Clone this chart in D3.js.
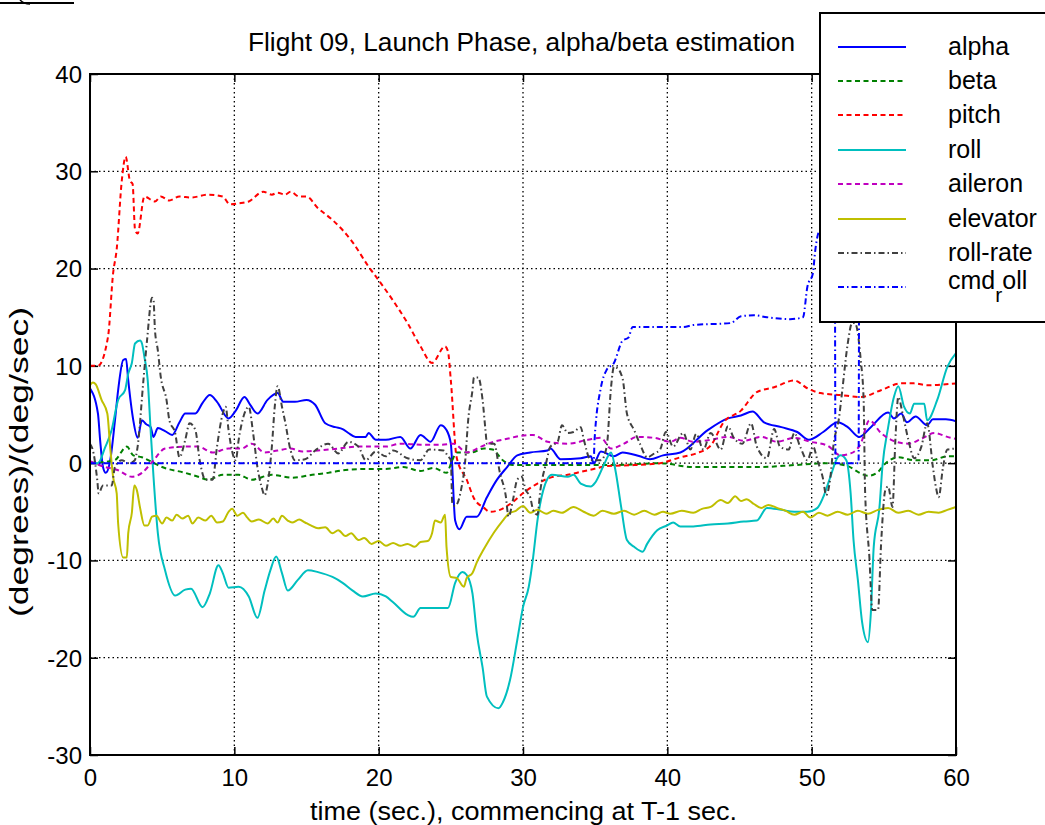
<!DOCTYPE html>
<html>
<head>
<meta charset="utf-8">
<script src="https://cdn.jsdelivr.net/npm/d3@7"></script>
<style>
  html, body { margin: 0; padding: 0; background: #fff; }
  svg { display: block; }
  text { font-family: "Liberation Sans", Arial, sans-serif; fill: #000; }
</style>
</head>
<body>
<svg id="chart" width="1045" height="825"></svg>
<script>
// ---------------- DATA ----------------
const xTicks = [0, 10, 20, 30, 40, 50, 60];
const yTicks = [-30, -20, -10, 0, 10, 20, 30, 40];
const seriesNames = ["alpha", "beta", "pitch", "roll", "aileron", "elevator", "roll-rate", "cmd_roll"];

const alpha = [[0,7.7],[0.55,5.1],[0.7,2.4],[0.9,-0.4],[1.09,-1.0],[1.4,0.3],[1.73,4.4],[1.95,7.5],[2.3,10.6],[2.5,10.7],[2.65,8.5],[3.0,4.4],[3.3,2.6],[3.6,4.4],[3.9,4.0],[4.2,3.7],[4.4,2.7],[4.7,3.6],[5.2,3.3],[5.7,2.9],[6.2,4.2],[6.6,5.1],[7.3,5.1],[7.8,6.2],[8.3,7.0],[8.8,6.3],[9.6,4.6],[10.1,5.4],[10.7,6.8],[11.1,6.0],[11.6,5.1],[12.3,6.5],[13.0,7.2],[13.4,6.3],[14.2,6.3],[15.0,6.5],[15.6,6.0],[16.3,4.1],[17.0,3.7],[17.5,3.5],[17.9,3.1],[18.4,2.7],[19.1,2.7],[19.3,3.1],[19.8,2.4],[20.5,2.4],[21.5,2.7],[22.2,1.5],[22.9,2.9],[23.6,2.2],[24.3,3.9],[24.7,3.4],[25.0,2.0],[25.3,-5.9],[25.6,-6.8],[26.1,-5.5],[26.8,-5.5],[27.5,-3.5],[28.2,-1.7],[28.9,-0.4],[29.6,0.8],[30.5,1.1],[31.7,1.3],[31.9,1.5],[32.6,0.4],[34.0,0.5],[34.7,0.7],[34.9,0.0],[35.4,1.2],[36.3,0.7],[36.9,1.1],[38.1,0.7],[38.8,0.4],[39.7,0.8],[40.9,1.1],[42.8,3.4],[44.2,4.6],[45.1,4.9],[45.9,5.3],[46.7,4.2],[47.9,3.7],[49.0,3.2],[49.8,2.4],[50.8,3.2],[51.8,4.2],[52.5,3.7],[53.3,2.7],[54.1,3.7],[55.3,5.2],[55.7,4.6],[56.2,5.1],[56.6,4.2],[57.2,4.8],[58.0,3.9],[58.4,4.5],[59.3,4.5],[60,4.3]];

const beta = [[0,0],[1.7,0.3],[2.55,1.7],[3.0,0.8],[3.6,0.6],[4.3,0.1],[5.0,-0.4],[6.6,-1.0],[7.5,-1.4],[8.2,-1.7],[9.2,-1.2],[10.3,-1.2],[11.2,-1.7],[12.6,-1.2],[14.0,-1.5],[15.4,-1.2],[16.5,-1.0],[17.7,-0.7],[19.1,-0.6],[20.5,-0.6],[21.7,-0.4],[22.9,-0.8],[23.8,-0.5],[24.7,-1.0],[25.1,0.3],[25.4,1.1],[26.4,1.1],[27.3,1.5],[27.9,1.4],[28.6,0.3],[29.3,-0.2],[31.7,-0.2],[36.3,-0.2],[39.5,0],[41.8,-0.4],[44.2,-0.4],[46.5,-0.4],[48.8,-0.2],[51.1,0],[52.5,-0.3],[53.2,-0.9],[53.9,-1.3],[54.6,-0.9],[55.0,-0.2],[56.0,0.6],[57.1,0.3],[58.3,0.3],[59.4,0.7],[60,0.7]];

const pitch = [[0,10],[0.55,10],[1.25,13],[1.6,19.5],[1.85,22],[2.2,29],[2.47,31.5],[2.77,29],[2.95,28.7],[3.12,24],[3.3,23.6],[3.77,27.4],[4.5,26.9],[4.9,27.4],[5.5,27],[6.2,27.4],[7.0,27.3],[8.2,27.6],[9.2,27.4],[9.7,26.6],[10.3,26.7],[11.0,26.9],[12.0,27.9],[12.6,27.6],[13.0,27.8],[13.5,27.6],[13.9,27.9],[14.5,27.4],[15.0,27.4],[15.8,26.2],[16.8,25.0],[18.2,22.7],[19.3,20.2],[20.0,18.8],[21.0,16.7],[22.0,14.4],[22.9,12.0],[23.7,10.3],[24.6,12.0],[24.8,11.5],[25.0,8.5],[25.4,0.6],[26.1,-1.7],[26.6,-3.6],[27.3,-4.6],[27.7,-5.0],[28.4,-4.8],[29.1,-4.2],[30,-3.1],[31,-2.1],[32.1,-1.4],[33.1,-1.2],[34,-0.9],[34.9,-0.6],[35.8,-0.3],[37.7,-0.2],[39.5,0],[40.9,0.6],[42,1.0],[43,1.8],[43.9,4.2],[45.1,5.4],[46.2,7.3],[47.4,7.8],[48.8,8.5],[49.7,7.7],[50.6,7.2],[52,7.0],[53.4,6.8],[54.8,7.5],[56.2,8.2],[57.1,8.2],[58,8.0],[60,8.2]];

const roll = [[0,0.1],[0.55,0],[1.04,1.6],[1.5,3.4],[1.95,6.5],[2.43,7.5],[2.65,9.2],[2.9,10.3],[3.12,12.3],[3.47,12.6],[3.6,12.3],[3.77,10.9],[4.0,8.5],[4.2,3.4],[4.4,-1.4],[4.7,-7.2],[5.2,-11],[5.9,-13.6],[6.6,-13],[7.0,-12.9],[7.8,-14.8],[8.3,-13.4],[8.9,-10.5],[9.2,-11.3],[9.6,-12.8],[10.3,-12.7],[11.0,-13.7],[11.6,-15.9],[12.1,-13.1],[12.5,-11],[12.9,-9.6],[13.3,-11.3],[13.7,-13.1],[14.4,-12],[15.1,-11],[15.8,-11.2],[16.8,-11.7],[17.5,-12.3],[18.2,-13.1],[18.9,-13.7],[19.8,-13.4],[20.5,-13.7],[21,-14.3],[22,-15.6],[22.4,-15.8],[22.9,-14.9],[23.8,-14.9],[24.8,-14.9],[25.3,-12.3],[25.8,-11.2],[26.1,-11.5],[26.5,-13.4],[26.8,-17.5],[27.2,-21],[27.5,-24],[28.3,-25.2],[28.6,-24.6],[29.1,-22.3],[29.6,-18.2],[30,-14.8],[30.4,-12.7],[30.7,-9.7],[31,-5.9],[31.4,-2.8],[32,-1.2],[33.1,-1.4],[33.5,-1.2],[34,-2.1],[34.7,-2.4],[35,-2.0],[35.6,-0.2],[36.1,1.1],[36.4,-0.7],[36.8,-4.5],[37.2,-7.9],[37.7,-8.6],[38.3,-9.1],[38.6,-8.3],[39.3,-6.9],[40,-6.4],[40.4,-6.1],[40.9,-6.5],[41.8,-6.5],[43,-6.3],[44.2,-6.2],[45.3,-6],[46.2,-5.9],[46.9,-4.6],[47.9,-4.8],[48.8,-5],[49.7,-5],[50.4,-4.6],[50.8,-3.5],[51.3,-1.4],[51.8,0.6],[52,0.8],[52.4,0.3],[52.7,-3.1],[52.9,-7.9],[53.2,-12],[53.5,-16.4],[53.9,-18.4],[54.1,-15.4],[54.3,-8.6],[54.7,-4.5],[54.9,-0.4],[55.3,3.7],[55.7,6.8],[56,7.9],[56.4,5.8],[56.8,5.1],[57.1,6.1],[57.8,6.1],[58,4.4],[58.7,6.5],[59.4,9.9],[60,11.3]];

const aileron = [[0,0.2],[1.04,-0.4],[1.9,-0.7],[2.9,-1.4],[3.6,-1.0],[4.3,0.1],[5.2,1.5],[6.6,1.7],[7.5,1.7],[8.5,1.1],[9.6,1.5],[10.5,1.5],[11.2,2.0],[12.1,1.1],[13,1.3],[13.9,1.5],[14.7,1.2],[15.8,1.3],[17.2,1.5],[18.6,1.7],[20.5,1.7],[21.5,2.0],[22.9,1.9],[24.3,1.9],[25.2,2.0],[26.1,1.1],[27.1,1.7],[28,2.2],[28.9,2.5],[29.8,2.8],[30.7,2.9],[31.7,2.2],[33.1,2.0],[34.5,2.4],[35.4,2.6],[36.1,1.5],[37,2.0],[37.9,2.7],[39.1,2.6],[40.2,2.2],[40.9,2.6],[41.8,2.2],[43,2.4],[44.2,2.7],[45.3,2.3],[46.5,2.7],[47.6,2.2],[48.8,2.6],[49.9,2.2],[51.1,1.8],[52,0.8],[52.7,1.0],[53.4,2.0],[54,4.4],[54.8,3.1],[55.5,2.4],[56.7,2.0],[57.6,2.5],[58.5,3.1],[59.4,2.7],[60,2.5]];

const elevator = [[0,8],[0.2,8.3],[0.4,8.1],[0.8,6.5],[1.2,5.1],[1.4,1.6],[1.6,-1.4],[1.85,-3.1],[1.95,-6.2],[2.3,-9.7],[2.55,-9.7],[2.65,-7.2],[2.9,-5.1],[3.07,-2.3],[3.25,-2.8],[3.47,-4.6],[3.77,-6.4],[4.0,-6.4],[4.3,-5.5],[4.6,-5.4],[5.0,-6.2],[5.3,-5.6],[5.7,-5.9],[6.0,-5.3],[6.4,-5.7],[6.8,-5.4],[7.1,-6.2],[7.5,-5.6],[8.0,-5.9],[8.4,-5.4],[8.8,-6.1],[9.2,-6.0],[9.6,-5.0],[9.85,-4.7],[10.2,-5.4],[10.6,-5.1],[10.9,-5.6],[11.2,-6.0],[11.7,-5.8],[12.3,-6.2],[12.7,-5.7],[13.0,-6.1],[13.3,-5.4],[13.7,-5.9],[14,-6.1],[14.5,-5.8],[14.9,-6.1],[15.3,-6.4],[15.8,-6.7],[16.3,-6.6],[16.8,-7.2],[17.2,-6.9],[17.7,-7.5],[18.1,-7.2],[18.6,-7.9],[19.0,-7.7],[19.5,-8.3],[20.0,-8.0],[20.5,-8.5],[21,-8.2],[21.5,-8.5],[22,-8.3],[22.5,-8.6],[22.9,-8.1],[23.4,-8.0],[23.7,-7.2],[23.9,-5.9],[24.3,-6.1],[24.6,-5.3],[24.7,-8.6],[25,-11.7],[25.4,-11.8],[25.9,-12.7],[26.1,-11.8],[26.5,-11.3],[26.8,-10.2],[27.3,-8.8],[28,-7.1],[28.6,-5.9],[29,-5.2],[29.5,-4.9],[30,-4.4],[30.5,-5.1],[31,-4.8],[31.6,-5.2],[32.1,-4.9],[32.7,-5.1],[33.5,-4.5],[34.2,-5.0],[34.9,-5.4],[35.5,-4.9],[36.3,-5.2],[37.0,-4.9],[37.7,-5.3],[38.4,-4.9],[39.1,-5.3],[39.7,-5.0],[40.2,-5.2],[41.0,-4.9],[41.8,-5.1],[42.4,-4.7],[43,-4.5],[43.7,-3.8],[44.2,-4.1],[44.7,-3.4],[45.1,-3.9],[45.5,-3.7],[46.0,-4.2],[46.5,-4.6],[47.0,-4.3],[47.6,-4.6],[48.2,-4.9],[48.8,-5.3],[49.4,-5.0],[49.9,-5.6],[50.5,-5.1],[51.1,-5.4],[51.8,-5.0],[52.5,-5.3],[53.2,-4.9],[53.9,-5.2],[54.6,-4.8],[55.3,-4.6],[56.0,-5.1],[56.7,-4.9],[57.4,-5.3],[58.1,-5.0],[58.8,-5.1],[59.4,-4.8],[60,-4.5]];

const rollRate = [[0,2],[0.25,1],[0.5,-1.7],[0.6,-3.1],[0.9,-2.3],[1.5,-2.3],[1.73,-0.4],[2.2,0.3],[2.7,0.0],[3.1,0.3],[3.3,1.7],[3.7,8.5],[3.95,12.6],[4.3,17],[4.4,16.8],[4.5,13.7],[4.7,11.6],[4.9,8.9],[5.3,6.5],[5.5,4.4],[5.9,3.1],[6.2,0.6],[6.6,2.4],[6.9,4.1],[7.3,3.4],[7.6,0.3],[8.0,-1.7],[8.5,-1.7],[8.8,1.7],[9.2,5.1],[9.4,5.8],[9.6,3.4],[10.1,0.3],[10.3,2.4],[10.7,5.1],[11.0,5.8],[11.3,3.1],[11.6,-0.4],[11.9,-2.5],[12.1,-3.3],[12.3,-2.2],[12.6,1.7],[12.8,5.8],[13.0,7.9],[13.3,5.8],[13.5,4.4],[13.9,1.3],[14.2,0.3],[14.9,0.4],[15.6,1.3],[16.5,2.0],[17.2,1.0],[17.9,2.2],[18.6,1.7],[19.1,0.3],[19.8,1.2],[20.5,0.7],[21,1.3],[22,0.5],[22.9,0.3],[23.5,1.4],[24.5,1.3],[24.8,0.7],[25,0.3],[25.1,-4.1],[25.3,-4.4],[25.7,-2.8],[26,0.3],[26.2,4.4],[26.5,7.5],[26.6,8.8],[26.9,8.8],[27.2,6.5],[27.4,3.4],[27.5,2.0],[28,2.0],[28.4,-1.0],[28.8,-3.3],[29,-5.5],[29.3,-3.8],[29.6,-1.7],[29.9,-1.4],[30.2,-2.8],[30.5,-3.5],[30.7,-4.8],[31,-5.3],[31.2,-2.8],[31.6,0],[31.9,1.7],[32.4,2.2],[32.7,3.9],[33.1,3.1],[33.5,3.2],[34,3.7],[34.2,2.5],[34.7,0.3],[35.4,0.3],[35.8,1.7],[36.1,7.8],[36.3,9.9],[36.5,9.8],[36.9,8.7],[37.2,5.1],[37.7,3.4],[38.1,2.0],[38.6,0.6],[39.1,1.0],[39.5,1.4],[39.9,3.2],[40.4,1.7],[41.1,3.1],[41.6,1.4],[42,3.0],[42.5,1.4],[43,3.1],[43.7,1.4],[44.2,3.8],[44.6,2.6],[45.2,2.0],[45.8,4.1],[46.2,1.7],[46.9,0.5],[47.4,3.5],[47.8,1.7],[48.4,1.4],[48.8,3.1],[49.2,1.7],[49.7,0.3],[50.1,1.7],[50.4,0.3],[50.8,-1.7],[51,-3.3],[51.3,-1.4],[51.5,1.7],[51.9,4.7],[52.1,7.2],[52.5,12.3],[52.8,14.4],[53,14.4],[53.4,10.6],[53.6,6.5],[53.7,-2.8],[54,-9.7],[54.2,-15.1],[54.6,-15.1],[54.8,-8.6],[55.1,-2.8],[55.3,-2.4],[55.6,-4.5],[55.8,2.4],[56,6.8],[56.3,5.1],[56.7,2.4],[57.1,0.5],[57.6,1.7],[58,4.1],[58.4,-0.4],[58.6,-2.4],[58.8,-3.5],[59.1,-0.4],[59.4,1.4],[60,1.5]];

const cmdRoll = [[0,0],[34.9,0],[34.95,2.2],[35.4,7.8],[35.8,9.6],[36.3,10.3],[36.9,12.6],[37.3,12.9],[37.6,14],[41.1,14],[41.8,14.2],[44.4,14.4],[45.1,15.1],[46,15.2],[46.9,15],[48.5,14.8],[49.4,15],[49.7,18.1],[50.1,19.6],[50.2,21.2],[50.6,24],[51.6,24],[51.65,0],[53.25,0],[53.3,24],[60,24]];

// ---------------- CHART ----------------
const FONT = "'Liberation Sans', Arial, sans-serif";
const svg = d3.select("#chart");
const W = 1045, H = 825;
svg.append("rect").attr("width", W).attr("height", H).attr("fill", "#fff");

const L = 90, R = 956, T = 74, B = 755;
const x = d3.scaleLinear().domain([0, 60]).range([L, R]);
const y = d3.scaleLinear().domain([-30, 40]).range([B, T]);

// small fragment at top-left
svg.append("line").attr("x1", 0).attr("x2", 74).attr("y1", 3).attr("y2", 3)
  .attr("stroke", "#000").attr("stroke-width", 2);
svg.append("path").attr("d", "M20,0 Q24,4 30,4").attr("fill", "none").attr("stroke", "#000").attr("stroke-width", 1.5);

// grid
const grid = svg.append("g");
xTicks.filter(d => d > 0 && d < 60).forEach(d => {
  grid.append("line").attr("x1", x(d)).attr("x2", x(d)).attr("y1", T).attr("y2", B)
    .attr("stroke", "#000").attr("stroke-width", 1.3).attr("stroke-dasharray", "1.5,3");
});
yTicks.filter(d => d > -30 && d < 40).forEach(d => {
  grid.append("line").attr("x1", L).attr("x2", R).attr("y1", y(d)).attr("y2", y(d))
    .attr("stroke", "#000").attr("stroke-width", 1.3).attr("stroke-dasharray", "1.5,3");
});

// axes via d3
const tickLen = 8;
const fmt = d => String(d);
const axB = svg.append("g").attr("transform", `translate(0,${B})`)
  .call(d3.axisBottom(x).tickValues(xTicks).tickFormat(fmt).tickSize(-tickLen).tickPadding(14).tickSizeOuter(0));
const axT = svg.append("g").attr("transform", `translate(0,${T})`)
  .call(d3.axisTop(x).tickValues(xTicks).tickSize(-tickLen).tickFormat("").tickSizeOuter(0));
const axL = svg.append("g").attr("transform", `translate(${L},0)`)
  .call(d3.axisLeft(y).tickValues(yTicks).tickFormat(fmt).tickSize(-tickLen).tickPadding(8).tickSizeOuter(0));
const axR = svg.append("g").attr("transform", `translate(${R},0)`)
  .call(d3.axisRight(y).tickValues(yTicks).tickSize(-tickLen).tickFormat("").tickSizeOuter(0));
[axB, axT, axL, axR].forEach(g => {
  g.select(".domain").remove();
  g.selectAll(".tick line").attr("stroke", "#000").attr("stroke-width", 1.5);
  g.selectAll("text").style("font-family", FONT).style("font-size", "24px").attr("fill", "#000");
});
axL.selectAll("text").attr("dy", "0.35em");

// data lines
svg.append("clipPath").attr("id", "plotclip").append("rect")
  .attr("x", L).attr("y", T).attr("width", R - L).attr("height", B - T);
const lineGen = d3.line().x(d => x(d[0])).y(d => y(d[1])).curve(d3.curveMonotoneX);
const styles = [
  { data: alpha,    color: "#0000ff", dash: null },
  { data: beta,     color: "#008000", dash: "5,3.5" },
  { data: pitch,    color: "#ff0000", dash: "5,3.5" },
  { data: roll,     color: "#00bfbf", dash: null },
  { data: aileron,  color: "#bf00bf", dash: "5,3.5" },
  { data: elevator, color: "#bfbf00", dash: null },
  { data: rollRate, color: "#404040", dash: "6,3,1.5,3" },
  { data: cmdRoll,  color: "#0000ff", dash: "6,3,1.5,3" }
];
const plotG = svg.append("g").attr("clip-path", "url(#plotclip)");
styles.forEach(s => {
  plotG.append("path").datum(s.data).attr("d", lineGen)
    .attr("fill", "none").attr("stroke", s.color).attr("stroke-width", 2)
    .attr("stroke-linejoin", "round")
    .attr("stroke-dasharray", s.dash);
});

// axes box
svg.append("rect").attr("x", L).attr("y", T).attr("width", R - L).attr("height", B - T)
  .attr("fill", "none").attr("stroke", "#000").attr("stroke-width", 2);

// title & labels
svg.append("text").attr("x", 248).attr("y", 51)
  .attr("textLength", 547).attr("lengthAdjust", "spacingAndGlyphs")
  .style("font-size", "25px").text("Flight 09, Launch Phase, alpha/beta estimation");
svg.append("text").attr("x", 310).attr("y", 820)
  .attr("textLength", 427).attr("lengthAdjust", "spacingAndGlyphs")
  .style("font-size", "25px").text("time (sec.), commencing at T-1 sec.");
svg.append("text").attr("transform", "translate(28,617) rotate(-90)")
  .attr("textLength", 310).attr("lengthAdjust", "spacingAndGlyphs")
  .style("font-size", "25px").text("(degrees)/(deg/sec)");

// legend
const lg = svg.append("g");
lg.append("rect").attr("x", 820).attr("y", 13).attr("width", 240).attr("height", 309)
  .attr("fill", "#fff").attr("stroke", "#000").attr("stroke-width", 2);
const legY = [47, 81, 115, 150, 184, 219, 253, 287];
styles.forEach((s, i) => {
  lg.append("line").attr("x1", 838).attr("x2", 906).attr("y1", legY[i]).attr("y2", legY[i])
    .attr("stroke", s.color).attr("stroke-width", 2).attr("stroke-dasharray", s.dash);
  const t = lg.append("text").attr("x", 948).attr("y", legY[i] + 8).style("font-size", "25px");
  if (seriesNames[i] === "cmd_roll") {
    t.attr("y", legY[i] + 2);
    t.append("tspan").text("cmd");
    t.append("tspan").attr("dy", 13).style("font-size", "21px").text("r");
    t.append("tspan").attr("dy", -13).text("oll");
  } else {
    t.text(seriesNames[i]);
  }
});
</script>
</body>
</html>
